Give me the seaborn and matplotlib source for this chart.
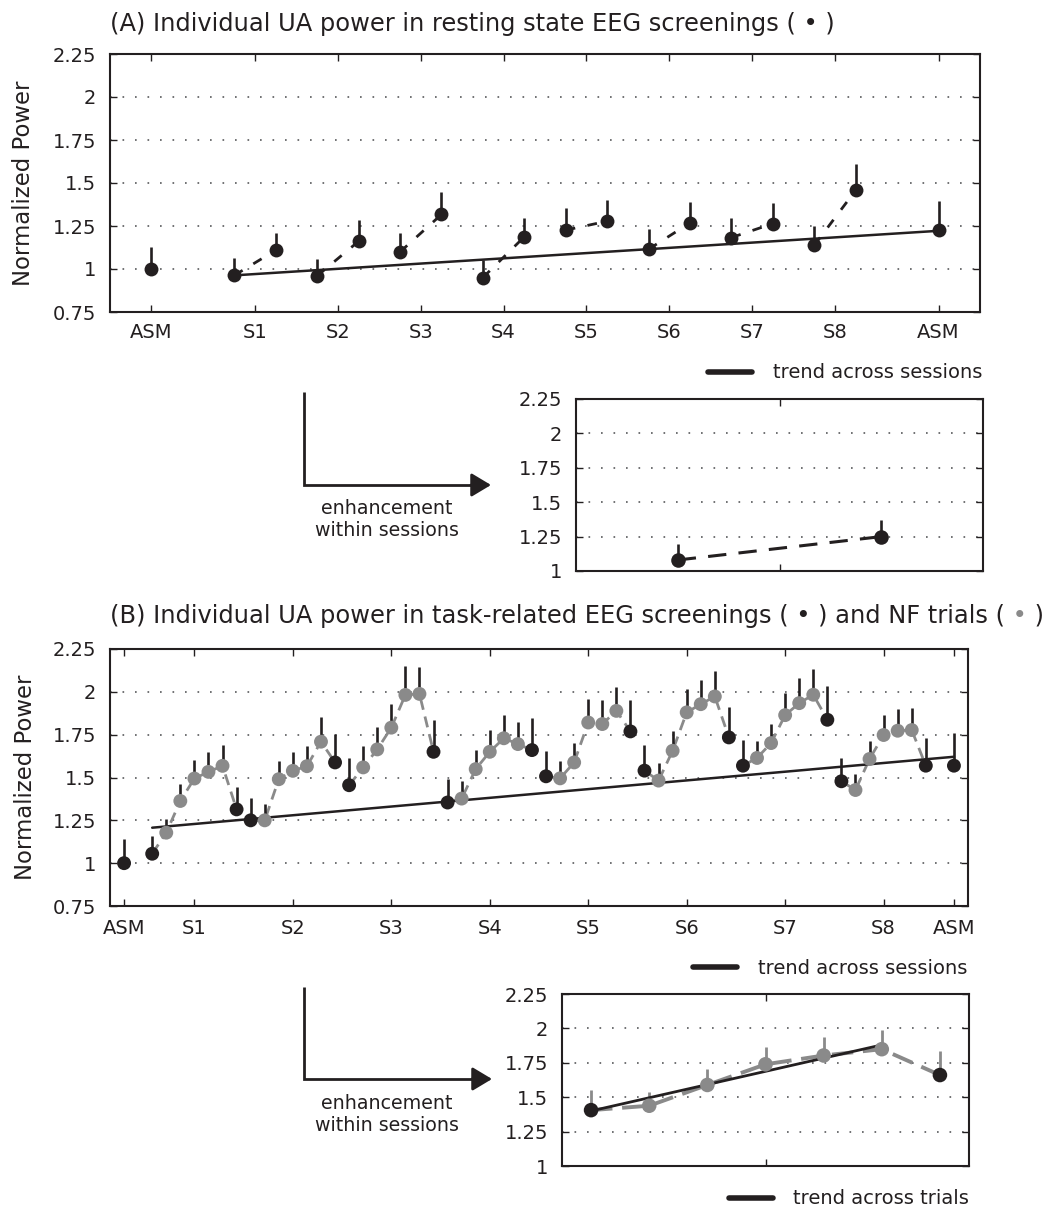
import numpy as np
import pandas as pd
import matplotlib
matplotlib.use("Agg")
import matplotlib.pyplot as plt
import seaborn as sns
from matplotlib.lines import Line2D

# ---------------- data ----------------
session_labels = ["ASM", "S1", "S2", "S3", "S4", "S5", "S6", "S7", "S8", "ASM"]
y_ticks = [0.75, 1.0, 1.25, 1.5, 1.75, 2.0, 2.25]
y_tick_labels = ["0.75", "1", "1.25", "1.5", "1.75", "2", "2.25"]
inset_y_ticks = [1.0, 1.25, 1.5, 1.75, 2.0, 2.25]
inset_y_tick_labels = ["1", "1.25", "1.5", "1.75", "2", "2.25"]

# (A) resting state EEG screenings
rest_asm = [1.00, 1.226]
rest_asm_err = [0.13, 0.168]
rest_pre = [0.963, 0.960, 1.099, 0.950, 1.226, 1.115, 1.183, 1.138]
rest_pre_err = [0.10, 0.10, 0.11, 0.10, 0.13, 0.12, 0.114, 0.11]
rest_post = [1.109, 1.161, 1.317, 1.187, 1.278, 1.268, 1.264, 1.458]
rest_post_err = [0.10, 0.123, 0.132, 0.112, 0.126, 0.122, 0.12, 0.15]
rest_trend = [0.963, 1.222]
rest_within = [1.08, 1.25]
rest_within_err = [0.116, 0.12]

# (B) task-related screenings (first/last of each session) and NF trials (middle five)
task_asm = [1.00, 1.569]
task_asm_err = [0.143, 0.188]
task_sessions = [
    [1.055, 1.178, 1.363, 1.494, 1.533, 1.568, 1.314],
    [1.250, 1.250, 1.490, 1.539, 1.566, 1.709, 1.588],
    [1.455, 1.559, 1.664, 1.791, 1.982, 1.988, 1.650],
    [1.354, 1.377, 1.549, 1.650, 1.729, 1.695, 1.660],
    [1.507, 1.495, 1.588, 1.821, 1.812, 1.889, 1.769],
    [1.540, 1.482, 1.656, 1.880, 1.928, 1.973, 1.734],
    [1.569, 1.614, 1.701, 1.864, 1.934, 1.983, 1.837],
    [1.478, 1.427, 1.608, 1.748, 1.773, 1.777, 1.569],
]
task_sessions_err = [
    [0.101, 0.082, 0.098, 0.111, 0.117, 0.121, 0.131],
    [0.131, 0.094, 0.106, 0.111, 0.120, 0.143, 0.164],
    [0.156, 0.127, 0.133, 0.139, 0.166, 0.157, 0.186],
    [0.140, 0.103, 0.111, 0.127, 0.136, 0.127, 0.185],
    [0.149, 0.103, 0.111, 0.136, 0.139, 0.142, 0.182],
    [0.151, 0.101, 0.113, 0.136, 0.140, 0.149, 0.179],
    [0.151, 0.101, 0.111, 0.132, 0.146, 0.149, 0.198],
    [0.136, 0.093, 0.103, 0.118, 0.126, 0.126, 0.159],
]
session_kinds = ["screening", "NF", "NF", "NF", "NF", "NF", "screening"]
task_trend = [1.207, 1.621]
trial_values = [1.406, 1.438, 1.589, 1.739, 1.803, 1.849, 1.661]
trial_err = [0.146, 0.097, 0.114, 0.129, 0.138, 0.141, 0.176]
trial_trend = [1.40, 1.88]

# ---------------- style ----------------
DARK = "#231f20"
GRAY = "#8a8a8a"
GRID = "#58595b"
sns.set_style("ticks")
plt.rcParams["font.family"] = ["DejaVu Sans"]
plt.rcParams["text.color"] = DARK
plt.rcParams["axes.labelcolor"] = DARK

W, H = 1046, 1209
fig = plt.figure(figsize=(W / 100, H / 100), dpi=100)


def rect(l, t, r, b):
    return [l / W, 1 - b / H, (r - l) / W, (b - t) / H]


MS = 100  # marker area (pt^2), ~14 px diameter

axA = fig.add_axes(rect(110, 54, 980, 312))
axB = fig.add_axes(rect(110, 649, 968, 906))
axAi = fig.add_axes(rect(576, 399, 983, 571))
axBi = fig.add_axes(rect(562, 994, 969, 1166))


def style_axes(ax, ylim, yt, ytl, xt, xtl, xpad):
    ax.set_ylim(*ylim)
    ax.set_yticks(yt)
    ax.set_yticklabels(ytl)
    ax.set_xticks(xt)
    ax.set_xticklabels(xtl)
    ax.set_xlabel("")
    ax.set_ylabel("")
    for s in ax.spines.values():
        s.set_visible(True)
        s.set_linewidth(1.5)
        s.set_color(DARK)
    ax.tick_params(axis="both", direction="in", length=5, width=1.0, color=DARK,
                   top=True, right=True, labelsize=14, labelcolor=DARK)
    ax.tick_params(axis="y", pad=10)
    ax.tick_params(axis="x", pad=xpad)
    ax.grid(axis="y", color=GRID, lw=1.2, ls=(0, (1, 6.5)), zorder=0)
    ax.set_axisbelow(True)


# ---------------- panel A ----------------
rows = [dict(x=0, y=rest_asm[0], err=rest_asm_err[0], grp="ASM0")]
for k in range(8):
    rows.append(dict(x=2 * (k + 1), y=rest_pre[k], err=rest_pre_err[k], grp=f"S{k+1}"))
    rows.append(dict(x=2 * (k + 1) + 1, y=rest_post[k], err=rest_post_err[k], grp=f"S{k+1}"))
rows.append(dict(x=rows[-1]["x"] + 2, y=rest_asm[1], err=rest_asm_err[1], grp="ASM1"))
dfA = pd.DataFrame(rows)
sessA = dfA[dfA.grp.str.startswith("S")]

sns.lineplot(data=sessA, x="x", y="y", units="grp", estimator=None, color=DARK,
             lw=2.0, linestyle=(0, (3.5, 4.5)), ax=axA, legend=False, zorder=2)
axA.vlines(dfA.x, dfA.y, dfA.y + dfA.err, color=DARK, lw=1.9, zorder=3)
sns.lineplot(x=[sessA.x.iloc[0], dfA.x.iloc[-1]], y=rest_trend, color=DARK, lw=1.8,
             ax=axA, zorder=3.5)
sns.scatterplot(data=dfA, x="x", y="y", color=DARK, marker="o", s=MS, linewidth=0,
                ax=axA, zorder=4, legend=False)
ticksA = [0] + [2 * (k + 1) + 0.5 for k in range(8)] + [dfA.x.iloc[-1]]
style_axes(axA, (0.75, 2.25), y_ticks, y_tick_labels, ticksA, session_labels, 8)
axA.set_xlim(-1, dfA.x.iloc[-1] + 1)

# inset A
dfAi = pd.DataFrame(dict(x=[1, 2], y=rest_within, err=rest_within_err))
sns.lineplot(data=dfAi, x="x", y="y", color=DARK, lw=2.2, linestyle=(0, (6, 4)),
             ax=axAi, zorder=2)
axAi.vlines(dfAi.x, dfAi.y, dfAi.y + dfAi.err, color=DARK, lw=1.9, zorder=3)
sns.scatterplot(data=dfAi, x="x", y="y", color=DARK, marker="o", s=MS + 10, linewidth=0,
                ax=axAi, zorder=4, legend=False)
style_axes(axAi, (1.0, 2.25), inset_y_ticks, inset_y_tick_labels, [1.5], [""], 8)
axAi.set_xlim(0.5, 2.5)

# ---------------- panel B ----------------
rows = [dict(x=0, y=task_asm[0], err=task_asm_err[0], grp="ASM0", kind="screening")]
for k in range(8):
    for j in range(7):
        rows.append(dict(x=2 + 7 * k + j, y=task_sessions[k][j], err=task_sessions_err[k][j],
                         grp=f"S{k+1}", kind=session_kinds[j]))
rows.append(dict(x=rows[-1]["x"] + 2, y=task_asm[1], err=task_asm_err[1], grp="ASM1",
                 kind="screening"))
dfB = pd.DataFrame(rows)
sessB = dfB[dfB.grp.str.startswith("S")]
pal = {"screening": DARK, "NF": GRAY}

sns.lineplot(data=sessB, x="x", y="y", units="grp", estimator=None, color=GRAY,
             lw=2.0, linestyle=(0, (4, 2.5)), ax=axB, legend=False, zorder=2)
axB.vlines(dfB.x, dfB.y, dfB.y + dfB.err, color=DARK, lw=1.9, zorder=3)
sns.lineplot(x=[sessB.x.iloc[0], dfB.x.iloc[-1]], y=task_trend, color=DARK, lw=1.8,
             ax=axB, zorder=3.5)
sns.scatterplot(data=dfB, x="x", y="y", hue="kind", palette=pal, marker="o", s=MS,
                linewidth=0, ax=axB, zorder=4, legend=False)
ticksB = [0] + [2 + 7 * k + 3 for k in range(8)] + [dfB.x.iloc[-1]]
style_axes(axB, (0.75, 2.25), y_ticks, y_tick_labels, ticksB, session_labels, 9.3)
axB.set_xlim(-1, dfB.x.iloc[-1] + 1)

# inset B
dfBi = pd.DataFrame(dict(x=np.arange(1, 8), y=trial_values, err=trial_err, kind=session_kinds))
sns.lineplot(data=dfBi, x="x", y="y", color=GRAY, lw=2.8, linestyle=(0, (5.5, 2.5)),
             ax=axBi, zorder=2)
axBi.vlines(dfBi.x, dfBi.y, dfBi.y + dfBi.err, color=GRAY, lw=2.0, zorder=3)
sns.lineplot(x=[1, 6], y=trial_trend, color=DARK, lw=2.0, ax=axBi, zorder=3.5)
sns.scatterplot(data=dfBi, x="x", y="y", hue="kind", palette=pal, marker="o", s=MS + 10,
                linewidth=0, ax=axBi, zorder=4, legend=False)
style_axes(axBi, (1.0, 2.25), inset_y_ticks, inset_y_tick_labels, [4], [""], 8)
axBi.set_xlim(0.5, 7.5)

# ---------------- labels ----------------
for ax in (axA, axB):
    ax.set_ylabel("Normalized Power", fontsize=16.4, color=DARK, va="center")
    ax.yaxis.set_label_coords((24 - 110) / 870, 0.5)

TFS = 17.4
fig.text(110 / W, 1 - 31 / H, "(A) Individual UA power in resting state EEG screenings ( \u2022 )",
         fontsize=TFS, ha="left", va="baseline", color=DARK)
tB = fig.text(110 / W, 1 - 623 / H,
              "(B) Individual UA power in task-related EEG screenings ( \u2022 ) and NF trials (",
              fontsize=TFS, ha="left", va="baseline", color=DARK)
tB2 = axB.annotate(" \u2022", xy=(1, 0), xycoords=tB, ha="left", va="bottom",
                   fontsize=TFS, color=GRAY, annotation_clip=False)
axB.annotate(" )", xy=(1, 0), xycoords=tB2, ha="left", va="bottom",
             fontsize=TFS, color=DARK, annotation_clip=False)


def trend_legend(ax, label, right_px, y_px):
    h = Line2D([], [], color=DARK, lw=4)
    leg = ax.legend([h], [label], loc="center right",
                    bbox_to_anchor=(right_px / W, 1 - y_px / H), bbox_transform=fig.transFigure,
                    frameon=False, fontsize=14, handlelength=2.25, handletextpad=1.05,
                    borderpad=0, borderaxespad=0)
    for t in leg.get_texts():
        t.set_color(DARK)


trend_legend(axA, "trend across sessions", 982, 373)
trend_legend(axB, "trend across sessions", 967, 968)
trend_legend(axBi, "trend across trials", 969, 1199)


def elbow_arrow(x0, y_top, y_corner, x_tip, text_y):
    fig.add_artist(Line2D([x0 / W, x0 / W, (x_tip - 12) / W],
                          [1 - y_top / H, 1 - y_corner / H, 1 - y_corner / H],
                          transform=fig.transFigure, color=DARK, lw=2.0,
                          solid_joinstyle="miter", solid_capstyle="butt"))
    axA.annotate("", xy=(x_tip, H - y_corner), xycoords="figure pixels",
                 xytext=(x_tip - 20, H - y_corner), textcoords="figure pixels",
                 arrowprops=dict(arrowstyle="-|>,head_length=0.6,head_width=0.36",
                                 color=DARK, lw=2.0, shrinkA=0, shrinkB=0,
                                 mutation_scale=20), annotation_clip=False)
    fig.text(387 / W, 1 - text_y / H, "enhancement\nwithin sessions", ha="center",
             va="center", fontsize=13.7, linespacing=1.15, color=DARK)


elbow_arrow(304, 392, 485, 491, 519.5)
elbow_arrow(304, 987, 1079, 492, 1114.5)

fig.savefig("out.png", dpi=100)
